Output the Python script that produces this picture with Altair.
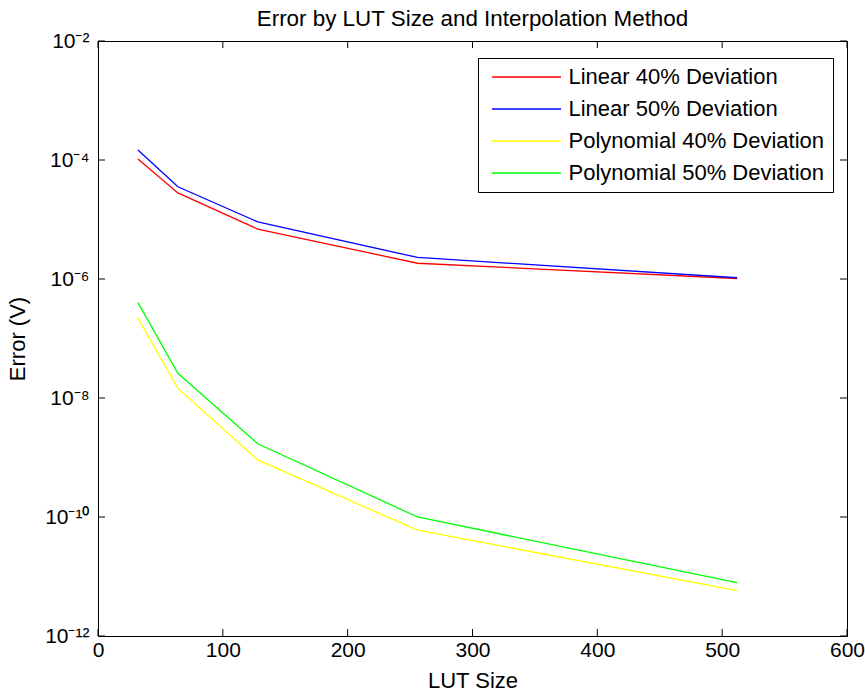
import altair as alt
import pandas as pd

# ---- data ----
lut_size = [32, 64, 128, 256, 512]
linear_40 = [1.04e-4, 2.8e-5, 6.9e-6, 1.84e-6, 1.02e-6]
linear_50 = [1.47e-4, 3.55e-5, 9.1e-6, 2.3e-6, 1.05e-6]
poly_40 = [2.2e-7, 1.45e-8, 9.1e-10, 6.0e-11, 5.8e-12]
poly_50 = [4.0e-7, 2.6e-8, 1.7e-9, 1.0e-10, 7.9e-12]

series_names = [
    "Linear 40% Deviation",
    "Linear 50% Deviation",
    "Polynomial 40% Deviation",
    "Polynomial 50% Deviation",
]
series_colors = ["#ff0000", "#0000ff", "#ffff00", "#00ff00"]

x_ticks = [0, 100, 200, 300, 400, 500, 600]
y_ticks = [1e-12, 1e-10, 1e-8, 1e-6, 1e-4, 1e-2]
y_exponents = [-12, -10, -8, -6, -4, -2]
y_tick_labels = ["10⁻¹²", "10⁻¹⁰", "10⁻⁸", "10⁻⁶", "10⁻⁴", "10⁻²"]

rows = []
for name, vals in zip(series_names, [linear_40, linear_50, poly_40, poly_50]):
    for x, v in zip(lut_size, vals):
        rows.append({"LUT Size": x, "Error": v, "Series": name})
df = pd.DataFrame(rows)

W, H = 749, 595
TICK = 7
FONT = "Liberation Sans"
FS = 22
TFS = 21

label_expr = " : ".join(
    f"round(log(datum.value)/LN10) == {e} ? '{lab}'" for e, lab in zip(y_exponents, y_tick_labels)
) + " : ''"

xscale = alt.Scale(domain=[0, 600], nice=False, zero=False)
yscale = alt.Scale(type="log", domain=[1e-12, 1e-2], nice=False)

x_axis = alt.Axis(
    values=x_ticks, ticks=False, tickSize=0, domain=False, grid=False,
    labelPadding=3, titlePadding=10, labelFlush=False, labelOverlap=False,
    labelFontSize=TFS, titleFontSize=FS, labelFont=FONT, titleFont=FONT,
    titleFontWeight="normal", labelColor="black", titleColor="black",
)
y_axis = alt.Axis(
    values=y_ticks, labelExpr=label_expr, ticks=False, tickSize=0,
    domain=False, grid=False, labelPadding=9, titlePadding=15, labelFlush=False,
    labelOverlap=False, labelFontSize=TFS, titleFontSize=FS, labelFont=FONT,
    titleFont=FONT, titleFontWeight="normal", labelColor="black", titleColor="black",
)

lines = alt.Chart(df).mark_line(strokeWidth=1.3, clip=True).encode(
    x=alt.X("LUT Size:Q", scale=xscale, axis=x_axis, title="LUT Size"),
    y=alt.Y("Error:Q", scale=yscale, axis=y_axis, title="Error (V)"),
    color=alt.Color(
        "Series:N",
        scale=alt.Scale(domain=series_names, range=series_colors),
        legend=alt.Legend(
            title=None, orient="none", legendX=380, legendY=17,
            fillColor="white", strokeColor="black", padding=8,
            symbolType="M-10,0H10", symbolSize=47.6, symbolStrokeWidth=1.3,
            symbolOffset=29.5, labelOffset=31, rowPadding=10, labelLimit=0,
            labelFontSize=FS, labelFont=FONT, labelColor="black",
        ),
    ),
)

xt = pd.DataFrame({"v": x_ticks})
yt = pd.DataFrame({"v": y_ticks})

bx = alt.X("v:Q", scale=xscale, axis=x_axis, title="LUT Size")
by = alt.Y("v:Q", scale=yscale, axis=y_axis, title="Error (V)")

tick_bottom = alt.Chart(xt).mark_rule(color="black", strokeWidth=1).encode(
    x=bx, y=alt.value(H), y2=alt.value(H - TICK))
tick_top = alt.Chart(xt).mark_rule(color="black", strokeWidth=1).encode(
    x=bx, y=alt.value(0), y2=alt.value(TICK))
tick_left = alt.Chart(yt).mark_rule(color="black", strokeWidth=1).encode(
    y=by, x=alt.value(0), x2=alt.value(TICK))
tick_right = alt.Chart(yt).mark_rule(color="black", strokeWidth=1).encode(
    y=by, x=alt.value(W - TICK), x2=alt.value(W))

chart = alt.layer(lines, tick_bottom, tick_top, tick_left, tick_right).properties(
    width=W,
    height=H,
    background="white",
    title=alt.Title(
        "Error by LUT Size and Interpolation Method",
        fontSize=22.4, font=FONT, fontWeight="normal", color="black",
        anchor="middle", frame="group", offset=0,
    ),
    autosize=alt.AutoSizeParams(type="none"),
    padding={"left": 98, "top": 41, "right": 18, "bottom": 58},
).configure_view(
    stroke="black", strokeWidth=1
)

chart.save("out.html", embed_options={"renderer": "svg", "actions": False})
